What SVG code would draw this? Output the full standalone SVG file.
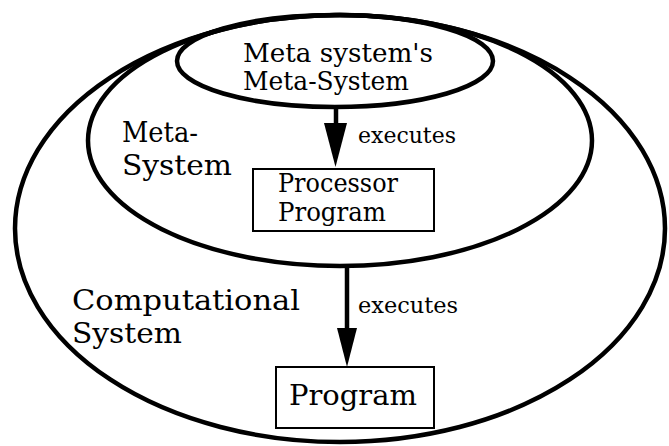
<svg xmlns="http://www.w3.org/2000/svg" width="669" height="446" viewBox="0 0 669 446">
  <style>
    .sys { fill: none; stroke: #000; stroke-width: 4.5; }
    .box { fill: #fff; stroke: #000; stroke-width: 2; }
    .shaft { fill: none; stroke: #000; stroke-width: 4.5; }
    text { font-family: "DejaVu Serif", "Liberation Serif", serif; fill: #000; }
    .big { font-size: 28px; }
    .mid { font-size: 25.5px; }
    .small { font-size: 22px; }
  </style>

  <rect width="669" height="446" fill="#fff"/>

  <!-- nested systems -->
  <g id="computational-system">
    <ellipse class="sys" cx="340" cy="228.5" rx="325" ry="213.5"/>
    <text class="big" x="72" y="310" textLength="228" lengthAdjust="spacingAndGlyphs">Computational</text>
    <text class="big" x="72" y="343" textLength="110" lengthAdjust="spacingAndGlyphs">System</text>
  </g>

  <g id="meta-system">
    <ellipse class="sys" cx="340" cy="140.5" rx="252" ry="125.5"/>
    <text class="big" x="122" y="142" textLength="76" lengthAdjust="spacingAndGlyphs">Meta-</text>
    <text class="big" x="122" y="175" textLength="110" lengthAdjust="spacingAndGlyphs">System</text>
  </g>

  <g id="meta-meta-system">
    <ellipse class="sys" cx="335" cy="61" rx="158" ry="46" fill="#fff"/>
    <text class="mid" x="243" y="62" textLength="190" lengthAdjust="spacingAndGlyphs">Meta system's</text>
    <text class="mid" x="243" y="90" textLength="166" lengthAdjust="spacingAndGlyphs">Meta-System</text>
  </g>

  <g id="processor-program">
    <rect class="box" x="253" y="169" width="181" height="62"/>
    <text class="mid" x="278" y="192" textLength="120" lengthAdjust="spacingAndGlyphs">Processor</text>
    <text class="mid" x="278" y="221" textLength="108" lengthAdjust="spacingAndGlyphs">Program</text>
  </g>

  <g id="program">
    <rect class="box" x="276" y="367" width="158" height="61"/>
    <text class="big" x="289" y="405" textLength="128" lengthAdjust="spacingAndGlyphs">Program</text>
  </g>

  <!-- "executes" connectors -->
  <g id="connectors">
    <line class="shaft" x1="336" y1="107" x2="336" y2="126"/>
    <path d="M324,123 L347,123 L335.5,167 Z" fill="#000"/>
    <text class="small" x="358" y="143" textLength="98" lengthAdjust="spacingAndGlyphs">executes</text>

    <line class="shaft" x1="347" y1="266" x2="347" y2="331"/>
    <path d="M337,328 L357,328 L347,367 Z" fill="#000"/>
    <text class="small" x="358" y="313" textLength="100" lengthAdjust="spacingAndGlyphs">executes</text>
  </g>
</svg>
